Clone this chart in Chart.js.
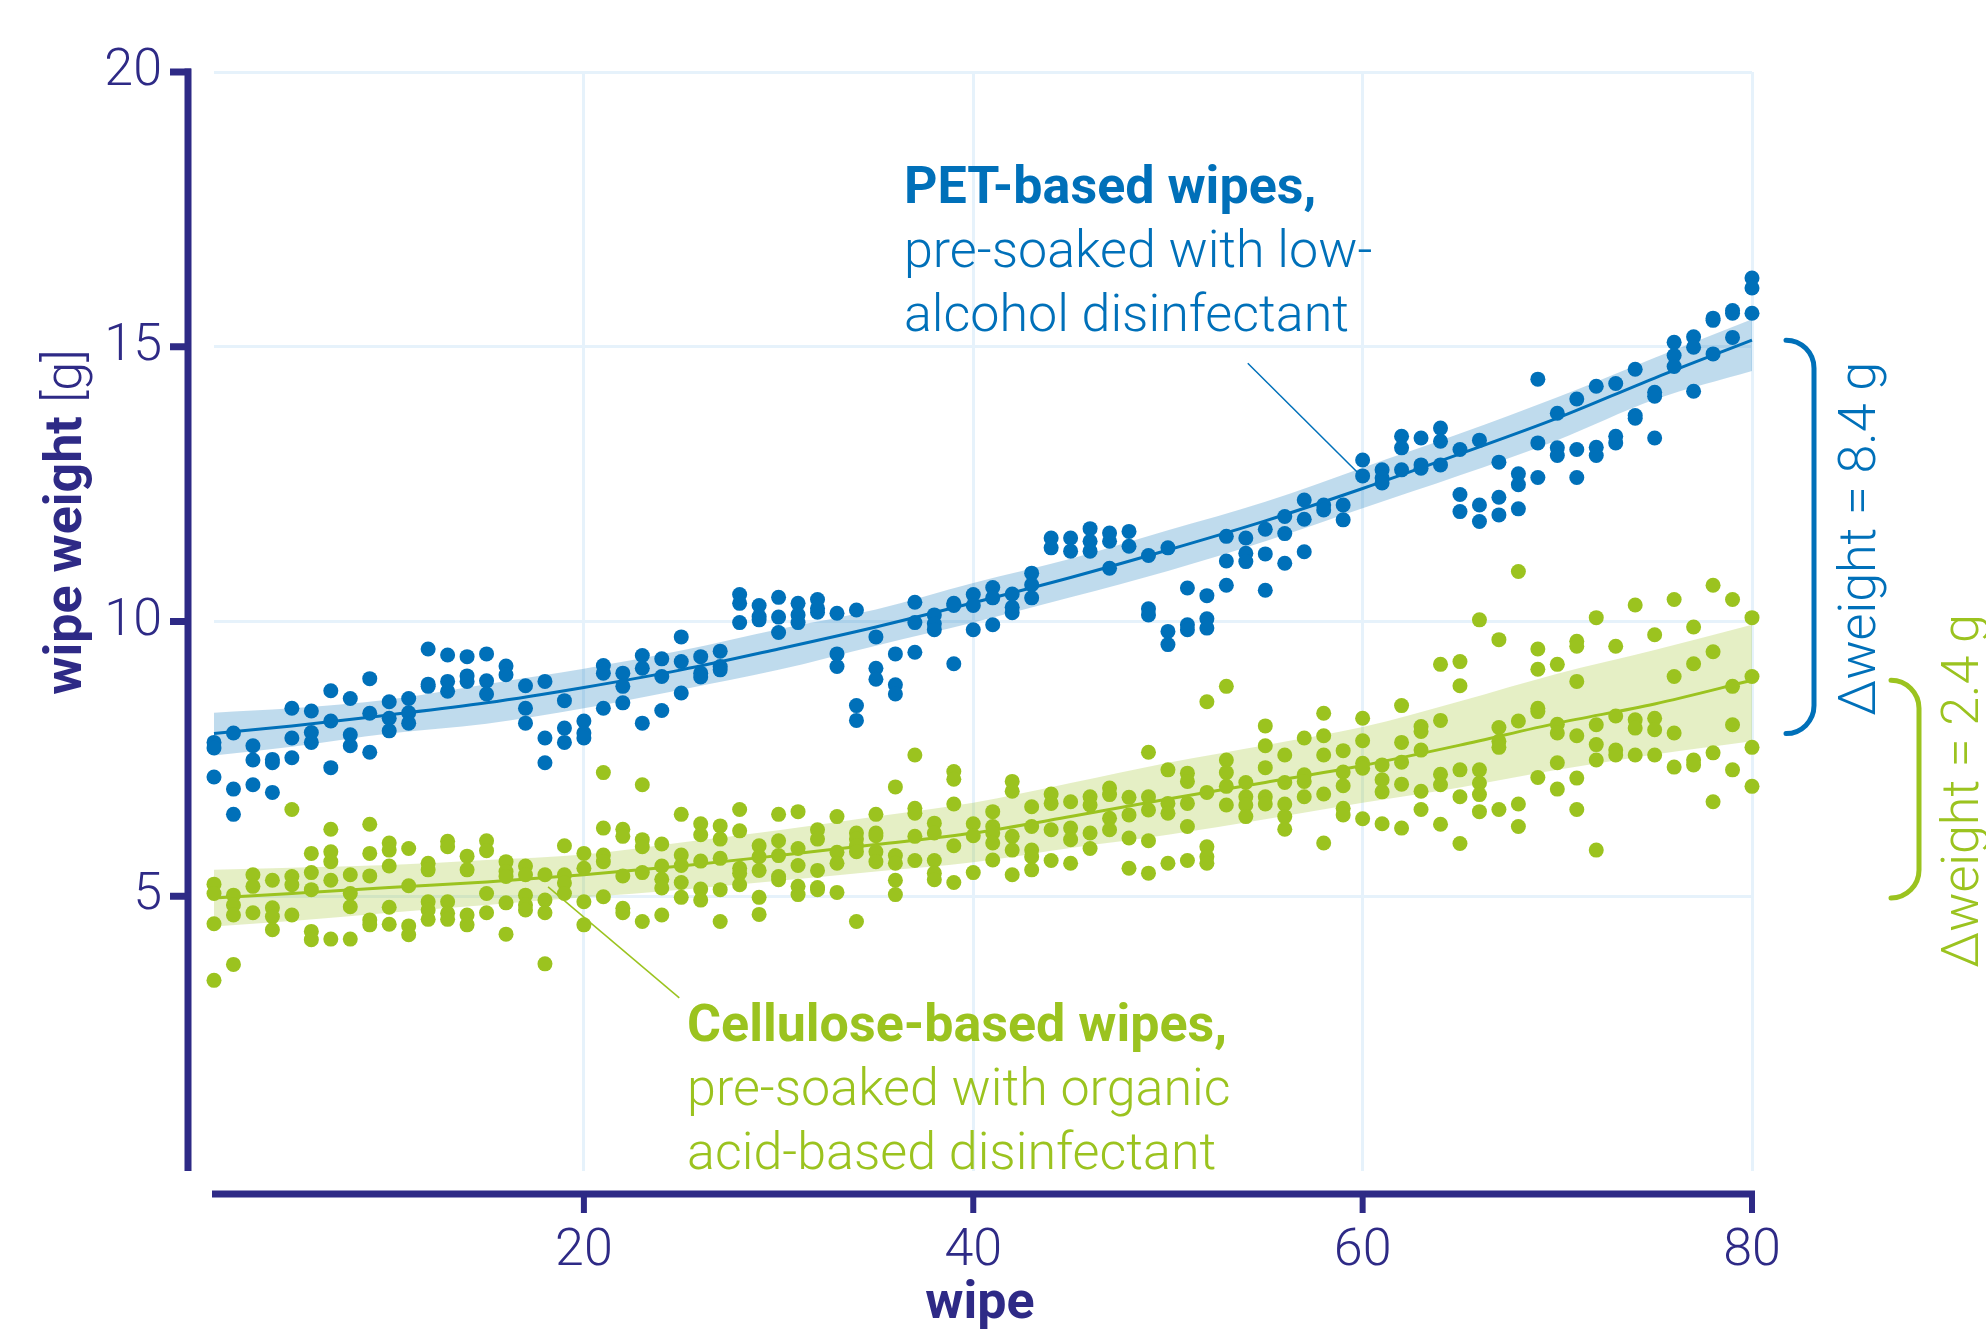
<!DOCTYPE html>
<html>
<head>
<meta charset="utf-8">
<script src="https://cdn.jsdelivr.net/npm/chart.js@4"></script>
<style>
    body { margin: 0; background: #fff; }
    #chart { display: block; }
</style>
</head>
<body>
<canvas id="chart" width="1986" height="1331"></canvas>
<script>
// wipe weights [g], one list per wipe (1..80)
const petWeights = [
    [7.80, 7.70, 7.17], [7.97, 6.95, 6.49], [7.74, 7.48, 7.03], [7.49, 7.43, 6.89], [8.42, 7.88, 7.52],
    [8.37, 7.98, 7.80], [8.74, 8.19, 7.34], [8.60, 7.94, 7.74], [8.96, 8.33, 7.62], [8.54, 8.24, 8.01],
    [8.60, 8.34, 8.15], [9.50, 8.86, 8.82], [9.39, 8.91, 8.73], [9.36, 9.01, 8.91], [9.41, 8.92, 8.68],
    [9.19, 9.03], [8.83, 8.42, 8.15], [8.91, 7.88, 7.43], [8.56, 8.06, 7.80], [8.19, 7.97, 7.88],
    [9.20, 9.06, 8.42], [9.06, 8.82, 8.52], [9.38, 9.15, 8.15], [9.32, 9.00, 8.38], [9.72, 9.27, 8.70],
    [9.36, 9.06, 8.99], [9.46, 9.18, 9.12], [10.49, 10.33, 9.98], [10.29, 10.09, 10.03], [10.44, 10.08, 9.80],
    [10.33, 10.12, 9.98], [10.40, 10.24, 10.17], [10.15, 9.41, 9.18], [10.21, 8.47, 8.20], [9.72, 9.15, 8.95],
    [9.41, 8.85, 8.68], [10.35, 9.98, 9.44], [10.12, 9.96, 9.85], [10.33, 10.29, 9.23], [10.49, 10.29, 9.85],
    [10.62, 10.43, 9.94], [10.50, 10.26, 10.16], [10.88, 10.67, 10.43], [11.52, 11.34], [11.52, 11.28],
    [11.69, 11.46, 11.28], [11.61, 11.46, 10.97], [11.64, 11.37], [11.20, 10.23, 10.12], [11.34, 9.82, 9.58],
    [10.61, 9.94, 9.85], [10.47, 10.05, 9.88], [11.55, 11.10, 10.66], [11.52, 11.24, 11.09], [11.68, 11.23, 10.57],
    [11.91, 11.60, 11.06], [12.21, 11.86, 11.27], [12.12, 12.03], [12.12, 11.85], [12.94, 12.65],
    [12.76, 12.61, 12.52], [13.37, 13.16, 12.76], [13.34, 12.85, 12.79], [13.52, 13.28, 12.85], [13.13, 12.31, 12.00],
    [13.30, 12.12, 11.82], [12.90, 12.26, 11.94], [12.69, 12.49, 12.05], [14.41, 13.25, 12.62], [13.79, 13.16, 13.02],
    [14.05, 13.13, 12.62], [14.28, 13.17, 13.02], [14.33, 13.37, 13.25], [14.59, 13.75, 13.70], [14.17, 14.10, 13.34],
    [15.08, 14.84, 14.64], [15.18, 14.99, 14.19], [15.52, 15.48, 14.87], [15.66, 15.61, 15.17], [16.25, 16.07, 15.61]
];

const celluloseWeights = [
    [5.22, 5.05, 4.50, 3.47], [5.02, 4.84, 4.66, 3.76], [5.39, 5.18, 4.70], [5.29, 4.79, 4.63, 4.39], [6.58, 5.36, 5.21, 4.66],
    [5.78, 5.43, 5.12, 4.36, 4.21], [6.22, 5.81, 5.63, 5.29, 4.22], [5.39, 5.05, 4.81, 4.22], [6.31, 5.78, 5.37, 4.57, 4.48], [5.97, 5.84, 5.55, 4.80, 4.49],
    [5.87, 5.19, 4.46, 4.30], [5.60, 5.48, 4.90, 4.75, 4.58], [6.00, 5.90, 4.90, 4.69, 4.58], [5.73, 5.48, 4.66, 4.48], [6.01, 5.83, 5.05, 4.70],
    [5.63, 5.45, 5.36, 4.88, 4.31], [5.55, 5.39, 5.02, 4.84, 4.75], [5.39, 4.93, 4.70, 3.77], [5.92, 5.39, 5.24, 5.05], [5.78, 5.51, 4.90, 4.48],
    [7.25, 6.24, 5.75, 5.63, 4.99], [6.22, 6.09, 5.37, 4.78, 4.70], [7.03, 6.03, 5.90, 5.43, 4.54], [5.95, 5.55, 5.31, 5.15, 4.66], [6.49, 5.75, 5.56, 5.25, 4.98],
    [6.32, 6.12, 5.64, 5.13, 4.93], [6.28, 6.04, 5.69, 5.12, 4.54], [6.58, 6.19, 5.51, 5.42, 5.21], [5.92, 5.72, 5.47, 4.98, 4.67], [6.49, 6.01, 5.74, 5.36, 5.30],
    [6.54, 5.87, 5.56, 5.18, 5.03], [6.21, 6.04, 5.47, 5.16, 5.12], [6.45, 5.80, 5.60, 5.07], [6.15, 6.04, 5.92, 5.81, 4.54], [6.49, 6.15, 6.10, 5.81, 5.63],
    [6.99, 5.74, 5.60, 5.29, 5.03], [7.57, 6.60, 6.51, 6.09, 5.65], [6.33, 6.15, 5.65, 5.42, 5.30], [7.27, 7.13, 6.68, 5.92, 5.25], [6.32, 6.10, 5.43],
    [6.54, 6.27, 6.15, 5.97, 5.66], [7.09, 6.91, 6.09, 5.84, 5.39], [6.63, 6.27, 5.84, 5.72, 5.48], [6.86, 6.69, 6.21, 5.65], [6.72, 6.24, 6.03, 5.60],
    [6.81, 6.66, 6.15, 5.87], [6.97, 6.85, 6.42, 6.21], [6.80, 6.48, 6.06, 5.51], [7.62, 6.81, 6.57, 6.01, 5.42], [7.30, 6.69, 6.51, 5.60],
    [7.24, 7.09, 6.69, 6.27, 5.65], [8.54, 6.89, 5.90, 5.72, 5.60], [8.82, 7.48, 7.25, 7.00, 6.66], [7.07, 6.81, 6.66, 6.45], [8.10, 7.74, 7.34, 6.81, 6.68],
    [7.57, 7.07, 6.68, 6.45, 6.22], [7.88, 7.21, 7.09, 6.81], [8.33, 7.92, 7.57, 6.86, 5.97], [7.65, 7.26, 7.01, 6.60, 6.48], [8.24, 7.83, 7.42, 7.33, 6.41],
    [7.39, 7.12, 6.90, 6.32], [8.47, 7.80, 7.44, 7.04, 6.24], [8.09, 8.00, 7.66, 6.91, 6.58], [9.22, 8.20, 7.22, 7.03, 6.31], [9.27, 8.83, 7.30, 6.81, 5.96],
    [10.03, 7.30, 7.06, 6.85, 6.54], [9.67, 8.07, 7.82, 7.71, 6.58], [10.91, 8.19, 6.68, 6.27], [9.50, 9.13, 8.42, 8.36, 7.16], [9.22, 8.13, 7.97, 7.43, 6.95],
    [9.64, 9.55, 8.91, 7.92, 7.15, 6.58], [10.07, 8.12, 7.76, 7.48, 5.84], [9.55, 8.28, 7.66, 7.57], [10.30, 8.21, 8.06, 7.57], [9.76, 8.24, 8.03, 7.57],
    [10.40, 9.00, 7.97, 7.35], [9.90, 9.23, 7.48, 7.39], [10.66, 9.45, 7.61, 6.72], [10.40, 8.82, 8.12, 7.30], [10.07, 9.00, 7.71, 7.00]
];

// fitted trend and its band, read at these wipes
const fitWipes = [1, 5, 10, 15, 20, 25, 30, 35, 40, 45, 50, 55, 60, 65, 70, 75, 80];
const petFit = [7.96, 8.10, 8.30, 8.52, 8.80, 9.12, 9.50, 9.90, 10.34, 10.80, 11.30, 11.83, 12.42, 13.05, 13.70, 14.43, 15.12];
const petBandHigh = [8.34, 8.42, 8.58, 8.86, 9.14, 9.47, 9.86, 10.22, 10.70, 11.14, 11.66, 12.18, 12.80, 13.42, 14.08, 14.80, 15.50];
const petBandLow = [7.56, 7.72, 7.96, 8.14, 8.42, 8.76, 9.12, 9.56, 9.98, 10.44, 10.92, 11.46, 12.06, 12.66, 13.30, 14.04, 14.56];
const celluloseFit = [4.97, 5.05, 5.16, 5.26, 5.39, 5.55, 5.74, 5.94, 6.15, 6.45, 6.77, 7.07, 7.38, 7.75, 8.15, 8.50, 8.93];
const celluloseBandHigh = [5.48, 5.52, 5.57, 5.66, 5.76, 5.98, 6.20, 6.45, 6.70, 7.06, 7.43, 7.75, 8.08, 8.55, 9.05, 9.48, 9.94];
const celluloseBandLow = [4.45, 4.55, 4.70, 4.84, 4.98, 5.12, 5.28, 5.45, 5.62, 5.88, 6.12, 6.40, 6.70, 6.98, 7.30, 7.58, 7.82];

const xTicks = [20, 40, 60, 80];
const yTicks = [5, 10, 15, 20];

const NAVY = '#2e2a86';
const BLUE = '#0070b9';
const GREEN = '#9bc31f';
const GRID = '#e6f2fb';
const PLOT_TOP = 72;

function toPoints(lists) {
    const pts = [];
    lists.forEach((vals, i) => vals.forEach(v => pts.push({ x: i + 1, y: v })));
    return pts;
}

function toLine(values) {
    return fitWipes.map((w, i) => ({ x: w, y: values[i] }));
}

function lineSet(values, color, width, fill, order) {
    return {
        type: 'line',
        data: toLine(values),
        borderColor: color,
        borderWidth: width,
        backgroundColor: fill || 'transparent',
        fill: fill ? '-1' : false,
        pointRadius: 0,
        cubicInterpolationMode: 'monotone',
        clip: false,
        order: order
    };
}

// axes offset from the plot, brackets, annotations
const decor = {
    id: 'decor',
    afterDraw(chart) {
        const { ctx, chartArea: area } = chart;
        const xs = chart.scales.x, ys = chart.scales.y;
        const px = v => xs.getPixelForValue(v);
        const py = v => ys.getPixelForValue(v);
        ctx.save();

        // left axis
        const axX = area.left - 26;
        ctx.strokeStyle = NAVY;
        ctx.lineWidth = 7;
        ctx.beginPath();
        ctx.moveTo(axX, py(20) - 3.5);
        ctx.lineTo(axX, py(0));
        ctx.stroke();
        yTicks.forEach(t => {
            ctx.beginPath();
            ctx.moveTo(axX - 18, py(t));
            ctx.lineTo(axX + 3, py(t));
            ctx.stroke();
        });

        // bottom axis
        const axY = area.bottom + 23;
        ctx.beginPath();
        ctx.moveTo(px(1) - 2, axY);
        ctx.lineTo(px(80) + 3, axY);
        ctx.stroke();
        ctx.lineWidth = 6;
        xTicks.forEach(t => {
            ctx.beginPath();
            ctx.moveTo(px(t), axY - 3);
            ctx.lineTo(px(t), axY + 19);
            ctx.stroke();
        });

        // axis titles
        ctx.fillStyle = NAVY;
        ctx.font = 'bold 52px Roboto';
        ctx.textAlign = 'center';
        ctx.textBaseline = 'alphabetic';
        ctx.fillText('wipe', (area.left + area.right) / 2 - 3, 1318);
        ctx.save();
        ctx.translate(81, 522);
        ctx.rotate(-Math.PI / 2);
        const boldPart = 'wipe weight ';
        const lightPart = '[g]';
        const wBold = ctx.measureText(boldPart).width;
        ctx.font = '300 52px Roboto';
        const wLight = ctx.measureText(lightPart).width;
        ctx.textAlign = 'left';
        const start = -(wBold + wLight) / 2;
        ctx.fillText(lightPart, start + wBold, 0);
        ctx.font = 'bold 52px Roboto';
        ctx.fillText(boldPart, start, 0);
        ctx.restore();

        // connector lines
        ctx.lineWidth = 1.5;
        ctx.strokeStyle = BLUE;
        ctx.beginPath();
        ctx.moveTo(px(54.1), py(14.7));
        ctx.lineTo(px(60.0), py(12.62));
        ctx.stroke();
        ctx.strokeStyle = GREEN;
        ctx.beginPath();
        ctx.moveTo(px(18.16), py(5.17));
        ctx.lineTo(px(24.9), py(3.15));
        ctx.stroke();

        // annotations
        ctx.textAlign = 'left';
        const note = (color, left, base, lines) => {
            ctx.fillStyle = color;
            lines.forEach((ln, i) => {
                ctx.font = (i === 0 ? 'bold' : '300') + ' 52px Roboto';
                ctx.fillText(ln, left, base + i * 64);
            });
        };
        note(BLUE, px(36.44), py(17.62), ['PET-based wipes,', 'pre-soaked with low-', 'alcohol disinfectant']);
        note(GREEN, px(25.3), py(2.37), ['Cellulose-based wipes,', 'pre-soaked with organic', 'acid-based disinfectant']);

        // brackets with the weight difference
        const bracket = (color, xr, top, bottom, label, base) => {
            const r = 28;
            ctx.strokeStyle = color;
            ctx.lineWidth = 5;
            ctx.lineCap = 'round';
            ctx.beginPath();
            ctx.moveTo(xr - r, top);
            ctx.arc(xr - r, top + r, r, -Math.PI / 2, 0);
            ctx.lineTo(xr, bottom - r);
            ctx.arc(xr - r, bottom - r, r, 0, Math.PI / 2);
            ctx.stroke();
            ctx.save();
            ctx.translate(base, (top + bottom) / 2 + 2);
            ctx.rotate(-Math.PI / 2);
            ctx.fillStyle = color;
            ctx.font = '300 52px Roboto';
            ctx.textAlign = 'center';
            ctx.fillText(label, 0, 0);
            ctx.restore();
        };
        bracket(BLUE, area.right + 62, py(petFit[petFit.length - 1]), py(petFit[0]), 'Δweight = 8.4 g', 1875);
        bracket(GREEN, area.right + 167, py(celluloseFit[celluloseFit.length - 1]), py(celluloseFit[0]), 'Δweight = 2.4 g', 1978);

        ctx.restore();
    }
};

const tickFont = { family: 'Roboto', size: 52, weight: 300 };

const chart = new Chart(document.getElementById('chart'), {
    type: 'scatter',
    data: {
        datasets: [
            lineSet(petBandLow, 'transparent', 0, null, 3),
            lineSet(petBandHigh, 'transparent', 0, 'rgba(0,112,185,0.25)', 3),
            lineSet(celluloseBandLow, 'transparent', 0, null, 3),
            lineSet(celluloseBandHigh, 'transparent', 0, 'rgba(155,195,31,0.26)', 3),
            lineSet(petFit, BLUE, 3, null, 2),
            lineSet(celluloseFit, GREEN, 3, null, 2),
            {
                label: 'PET-based wipes',
                data: toPoints(petWeights),
                backgroundColor: BLUE,
                pointRadius: 7.5,
                pointBorderWidth: 0,
                clip: false,
                order: 1
            },
            {
                label: 'Cellulose-based wipes',
                data: toPoints(celluloseWeights),
                backgroundColor: GREEN,
                pointRadius: 7.5,
                pointBorderWidth: 0,
                clip: false,
                order: 1
            }
        ]
    },
    options: {
        responsive: false,
        animation: false,
        devicePixelRatio: 1,
        layout: { autoPadding: false, padding: { top: PLOT_TOP, right: 234, left: 0, bottom: 0 } },
        plugins: { legend: { display: false }, tooltip: { enabled: false } },
        events: [],
        scales: {
            x: {
                type: 'linear',
                min: 1,
                max: 80,
                afterBuildTicks: s => { s.ticks = xTicks.map(v => ({ value: v })); },
                afterFit: s => { s.height = 160; },
                grid: { color: GRID, lineWidth: 3, drawTicks: false },
                border: { display: false },
                ticks: { font: tickFont, color: NAVY, padding: 50, maxRotation: 0 }
            },
            y: {
                min: 0,
                max: 20,
                afterBuildTicks: s => { s.ticks = yTicks.map(v => ({ value: v })); },
                afterFit: s => { s.width = 214; s.paddingTop = 0; s.paddingBottom = 0; },
                grid: { color: GRID, lineWidth: 3, drawTicks: false },
                border: { display: false },
                // small line height keeps the top label from pushing the plot down
                ticks: { font: Object.assign({}, tickFont, { lineHeight: 0.6 }), color: NAVY, padding: 52 }
            }
        }
    },
    plugins: [decor]
});

// take back any room the layout still adds above the plot, so y=20 sits at PLOT_TOP
const extra = chart.chartArea.top - PLOT_TOP;
if (Math.abs(extra) > 0.5) {
    chart.options.layout.padding.top = PLOT_TOP - extra;
    chart.update();
}
</script>
</body>
</html>
